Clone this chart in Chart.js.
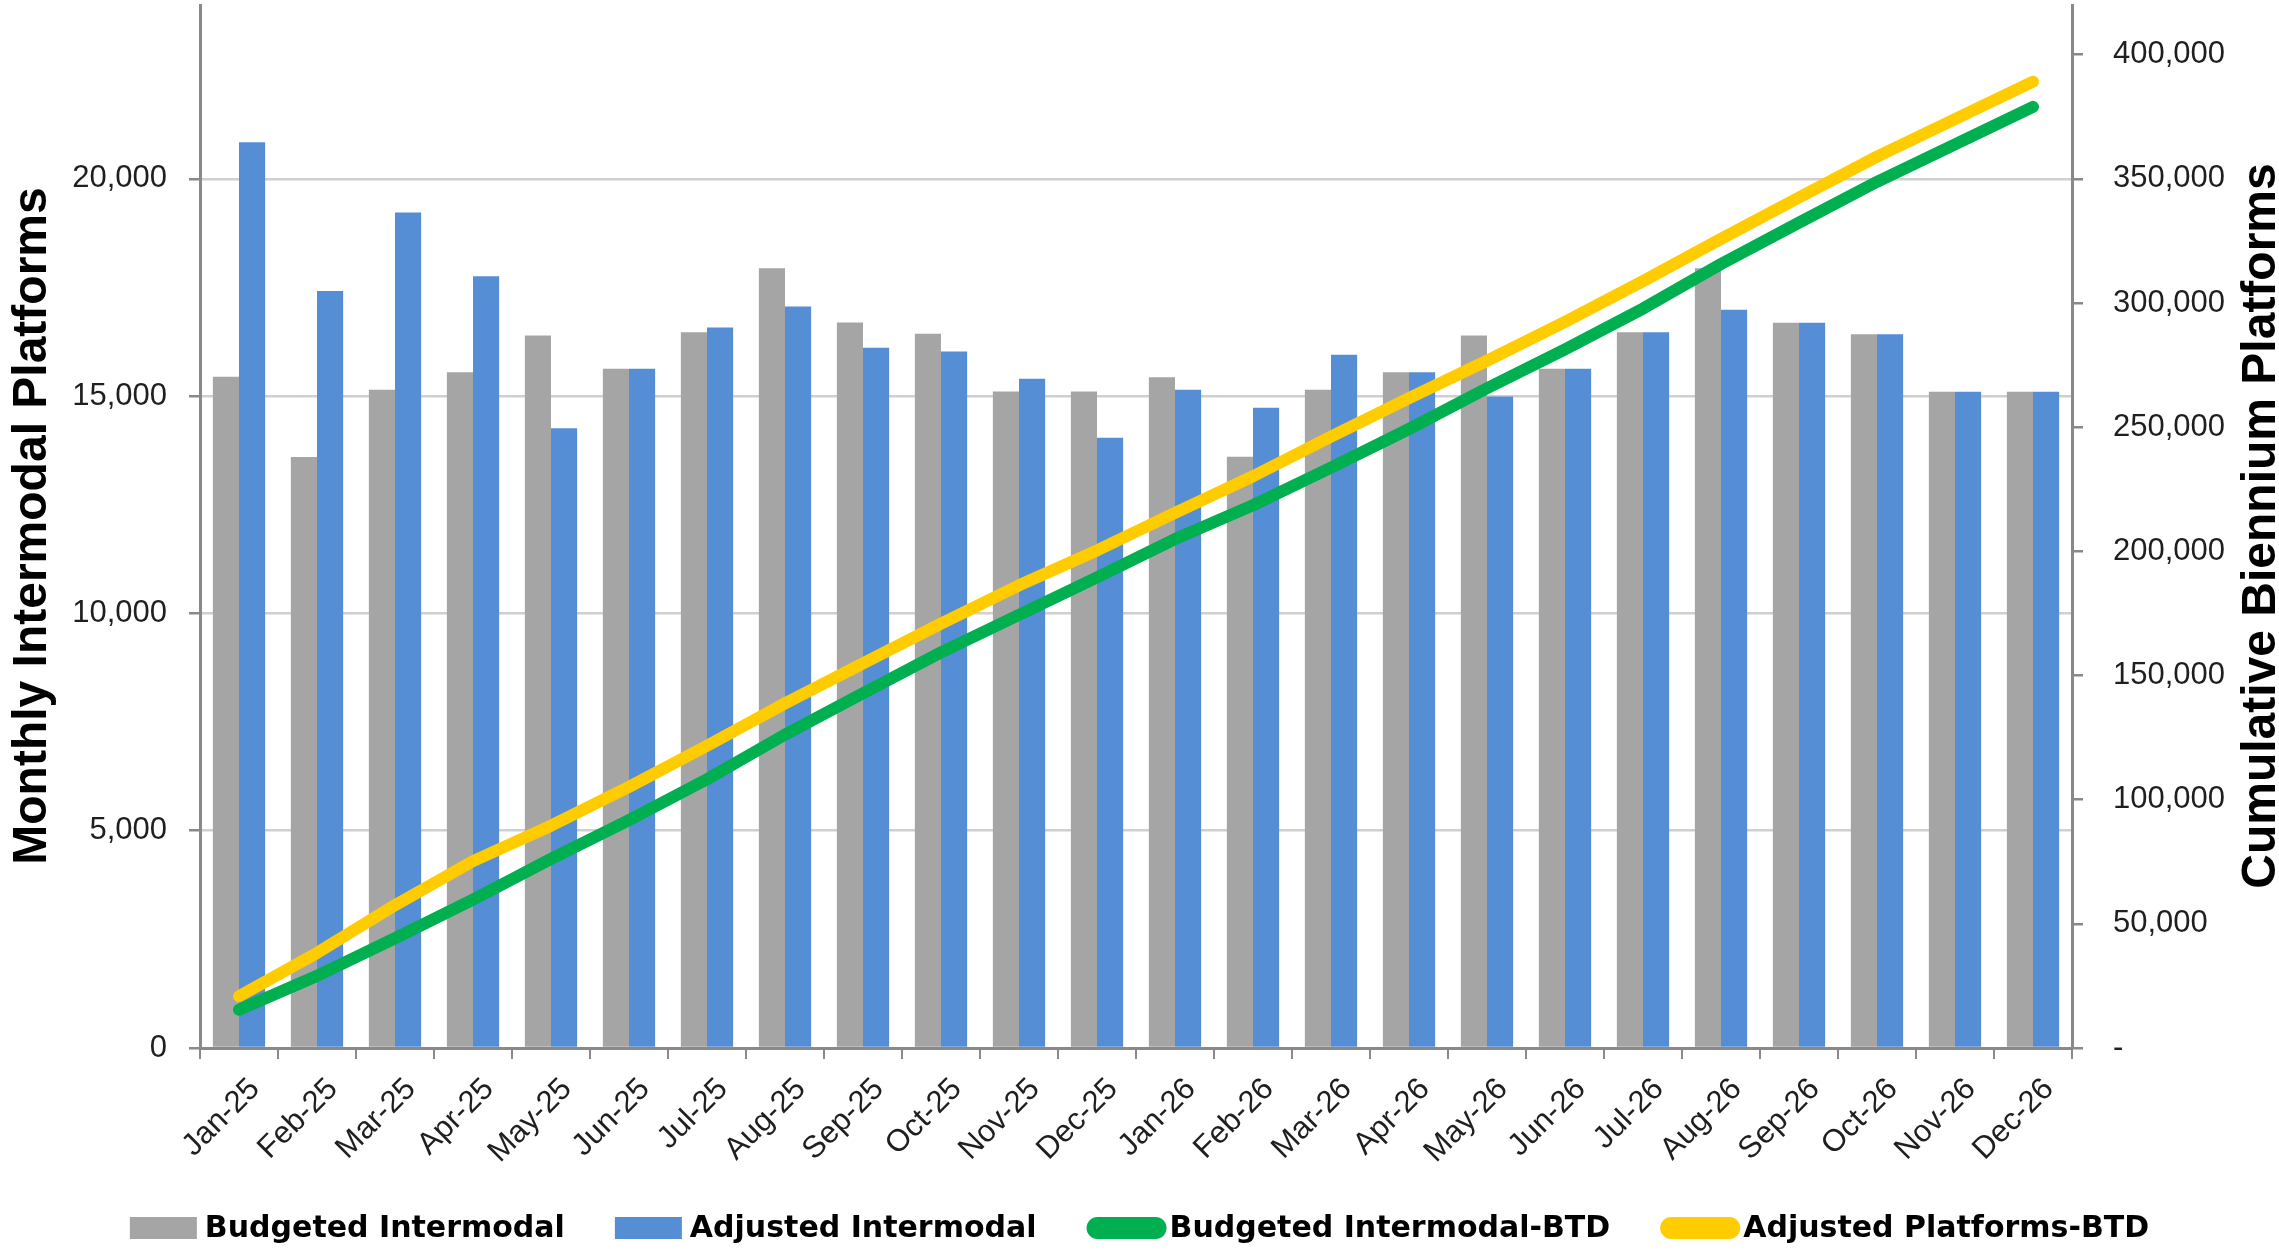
<!DOCTYPE html>
<html>
<head>
<meta charset="utf-8">
<script src="https://cdn.jsdelivr.net/npm/chart.js@4.4.1/dist/chart.umd.min.js"></script>
<style>
  html, body { margin: 0; padding: 0; background: #ffffff; }
  #wrap { width: 2279px; height: 1254px; }
</style>
</head>
<body>
<div id="wrap"><canvas id="chart" width="2279" height="1254"></canvas></div>
<script>
// Months of the 2025-2026 biennium
const months = ['Jan-25','Feb-25','Mar-25','Apr-25','May-25','Jun-25','Jul-25','Aug-25','Sep-25','Oct-25','Nov-25','Dec-25',
                'Jan-26','Feb-26','Mar-26','Apr-26','May-26','Jun-26','Jul-26','Aug-26','Sep-26','Oct-26','Nov-26','Dec-26'];

// Monthly platforms (left axis)
const budgetedIntermodal = [15446,13599,15147,15551,16394,15629,16470,17941,16693,16433,15108,15108,
                            15437,13607,15147,15551,16394,15629,16470,17941,16686,16424,15101,15101];
const adjustedIntermodal = [20844,17421,19227,17757,14258,15629,16578,17061,16111,16027,15400,14044,
                            15147,14733,15951,15551,14993,15629,16470,16985,16686,16424,15101,15101];

// Biennium-to-date running totals (right axis)
const budgetedBTD = [15446,29045,44192,59743,76137,91766,108236,126177,142870,159303,174411,189519,
                     204956,218563,233710,249261,265655,281284,297754,315695,332381,348805,363906,379007];
const adjustedBTD = [20844,38265,57492,75249,89507,105136,121714,138775,154886,170913,186313,200357,
                     215504,230237,246188,261739,276732,292361,308831,325816,342502,358926,374027,389128];

// Axis tick values
const leftTicks = [0, 5000, 10000, 15000, 20000];
const rightTicks = [0, 50000, 100000, 150000, 200000, 250000, 300000, 350000, 400000];

const GRAY = '#A5A5A5', BLUE = '#558ED5', GREEN = '#00B050', GOLD = '#FFCC00';
const AXIS = '#898989', GRID = '#D0D0D0', TEXT = '#1f1f1f';
const tickFont = { family: '"Liberation Sans", Arial, sans-serif', size: 31 };

const legendItems = [
  { text: 'Budgeted Intermodal', color: GRAY, kind: 'box' },
  { text: 'Adjusted Intermodal', color: BLUE, kind: 'box' },
  { text: 'Budgeted Intermodal-BTD', color: GREEN, kind: 'line' },
  { text: 'Adjusted Platforms-BTD', color: GOLD, kind: 'line' }
];

// Axis titles (both read bottom-to-top) and the bottom legend
const decorations = {
  id: 'decorations',
  afterDraw(chart) {
    const c = chart.ctx;
    const midY = 526;
    c.save();
    c.fillStyle = '#000000';
    c.font = 'bold 48px "Liberation Sans", Arial, sans-serif';
    c.textAlign = 'center';
    c.textBaseline = 'alphabetic';
    c.save();
    c.translate(46, midY);
    c.rotate(-Math.PI / 2);
    c.fillText('Monthly Intermodal Platforms', 0, 0);
    c.restore();
    c.save();
    c.translate(2275, midY);
    c.rotate(-Math.PI / 2);
    c.fillText('Cumulative Biennium Platforms', 0, 0);
    c.restore();

    // legend
    c.font = 'bold 30px "DejaVu Sans", sans-serif';
    c.textAlign = 'left';
    c.textBaseline = 'middle';
    const boxW = { box: 67, line: 80 };
    const gapAfter = { box: 8, line: 3 };
    const spacing = 50;
    const widths = legendItems.map(it => boxW[it.kind] + gapAfter[it.kind] + c.measureText(it.text).width);
    const total = widths.reduce((a, b) => a + b, 0) + spacing * (legendItems.length - 1);
    let x = chart.width / 2 - total / 2;
    const cy = 1228;
    legendItems.forEach((it, i) => {
      c.fillStyle = it.color;
      const w = boxW[it.kind];
      if (it.kind === 'box') {
        c.fillRect(x, cy - 11, w, 22);
      } else {
        c.beginPath();
        c.roundRect(x, cy - 11, w, 22, 11);
        c.fill();
      }
      c.fillStyle = '#000000';
      c.fillText(it.text, x + w + gapAfter[it.kind], cy + 1);
      x += widths[i] + spacing;
    });
    c.restore();
  }
};

const ctx = document.getElementById('chart').getContext('2d');
new Chart(ctx, {
  type: 'bar',
  data: {
    labels: months,
    datasets: [
      { label: 'Budgeted Intermodal', data: budgetedIntermodal, backgroundColor: GRAY, yAxisID: 'y', order: 3,
        categoryPercentage: 0.67, barPercentage: 1.0 },
      { label: 'Adjusted Intermodal', data: adjustedIntermodal, backgroundColor: BLUE, yAxisID: 'y', order: 3,
        categoryPercentage: 0.67, barPercentage: 1.0 },
      { type: 'line', label: 'Budgeted Intermodal-BTD', data: budgetedBTD, yAxisID: 'y2', order: 1,
        borderColor: GREEN, backgroundColor: GREEN, borderWidth: 12, pointRadius: 0, tension: 0,
        borderCapStyle: 'round', borderJoinStyle: 'round', fill: false },
      { type: 'line', label: 'Adjusted Platforms-BTD', data: adjustedBTD, yAxisID: 'y2', order: 0,
        borderColor: GOLD, backgroundColor: GOLD, borderWidth: 12, pointRadius: 0, tension: 0,
        borderCapStyle: 'round', borderJoinStyle: 'round', fill: false }
    ]
  },
  options: {
    responsive: false,
    animation: false,
    devicePixelRatio: 1,
    layout: { padding: { top: 5, left: 0, right: 0, bottom: 0 } },
    plugins: { legend: { display: false }, tooltip: { enabled: false } },
    scales: {
      x: {
        grid: { drawOnChartArea: false, offset: true, color: AXIS, tickColor: AXIS, tickLength: 11, lineWidth: 2 },
        border: { color: AXIS, width: 3 },
        ticks: { font: tickFont, color: TEXT, minRotation: 45, maxRotation: 45, autoSkip: false,
                 padding: 12, labelOffset: 16 },
        afterFit(s) { s.height = 206; s.paddingLeft = 0; s.paddingRight = 0; }
      },
      y: {
        position: 'left',
        min: 0, max: 24000,
        afterBuildTicks(s) { s.ticks = leftTicks.map(v => ({ value: v })); },
        grid: { color: GRID, lineWidth: 2.5, tickColor: AXIS, tickLength: 11 },
        border: { color: AXIS, width: 3 },
        ticks: { font: tickFont, color: TEXT, padding: 22,
                 callback: v => v.toLocaleString('en-US') },
        afterFit(s) { s.width = 200; s.paddingTop = 0; s.paddingBottom = 0; }
      },
      y2: {
        position: 'right',
        min: 0, max: 420000,
        afterBuildTicks(s) { s.ticks = rightTicks.map(v => ({ value: v })); },
        grid: { drawOnChartArea: false, tickColor: AXIS, tickLength: 11, lineWidth: 2.5 },
        border: { color: AXIS, width: 3 },
        ticks: { font: tickFont, color: TEXT, padding: 30,
                 callback: v => v === 0 ? '-' : v.toLocaleString('en-US') },
        afterFit(s) { s.width = 207; s.paddingTop = 0; s.paddingBottom = 0; }
      }
    }
  },
  plugins: [decorations]
});
</script>
</body>
</html>
